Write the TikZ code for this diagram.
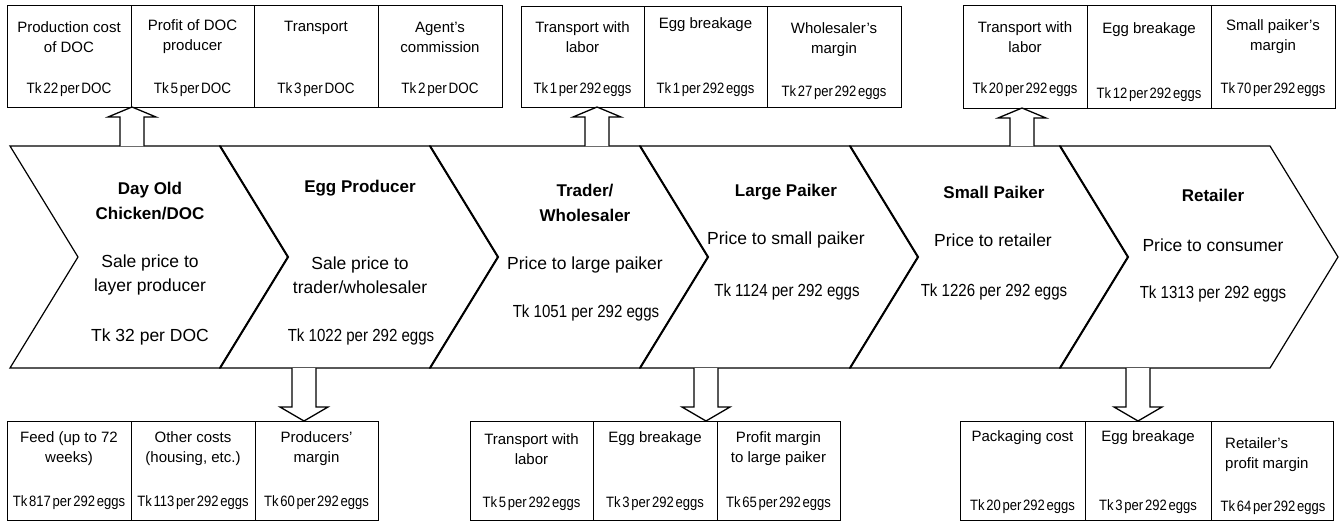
\documentclass[tikz,border=0pt]{standalone}
\usepackage{fontspec}
\setmainfont{Liberation Sans}
\usepackage{graphicx}

% condensed price lines
\newcommand{\tkdoc}[1]{\scalebox{0.9}[1]{\spaceskip=2pt\relax #1}}
\newcommand{\tkegg}[1]{\scalebox{0.87}[1]{\spaceskip=2pt\relax #1}}
\newcommand{\tkbig}[1]{\scalebox{0.86}[1]{#1}}

% cell of a cost table: name, x left, x right, y top, y bottom
\newcommand{\cellbox}[5]{%
  \node[cell, anchor=north west, minimum width={(#3-#2)*1pt},
        minimum height={(#5-#4)*1pt}] (#1) at (#2,#4) {};}

% hollow block arrows: x centre, y of stem end, y of tip
\newcommand{\blkup}[3]{%
  \draw[blk] (#1-12,#2) -- (#1-12,#3+10) -- (#1-24,#3+10) -- (#1,#3)
             -- (#1+24,#3+10) -- (#1+12,#3+10) -- (#1+12,#2);}
\newcommand{\blkdown}[3]{%
  \draw[blk] (#1-12,#2) -- (#1-12,#3-14) -- (#1-24,#3-14) -- (#1,#3)
             -- (#1+24,#3-14) -- (#1+12,#3-14) -- (#1+12,#2);}

\tikzset{
  chev/.style={draw=black, line width=1.2pt, fill=white, line join=miter},
  sepline/.style={draw=black, line width=2pt},
  cell/.style={draw=black, line width=1.4pt, inner sep=0pt},
  blk/.style={draw=black, line width=1.3pt, fill=white},
  boxtxt/.style={align=center, inner sep=0pt, font=\fontsize{15}{20}\selectfont},
  chtitle/.style={align=center, inner sep=0pt, font=\fontsize{17}{25}\selectfont\bfseries},
  chtxt/.style={align=center, inner sep=0pt, font=\fontsize{17.5}{24}\selectfont},
}

\begin{document}
\begin{tikzpicture}[x=1pt, y=-1pt]
\useasboundingbox (0,0) rectangle (1344,522);

% value-chain chevrons
\foreach \i in {0,...,5} {
  \pgfmathsetmacro\xa{10+210*\i}
  \draw[chev] (\xa,146) -- (\xa+210,146) -- (\xa+278,257) -- (\xa+210,368)
              -- (\xa,368) -- (\xa+68,257) -- cycle;
}
\foreach \i in {1,...,5} {
  \pgfmathsetmacro\xa{10+210*\i}
  \draw[sepline] (\xa,146) -- (\xa+68,257) -- (\xa,368);
}

% chevron texts
\node[chtitle] (c1t) at (150,201) {Day Old\\Chicken/DOC};
\node[chtxt]   (c1d) at (150,275) {Sale price to\\layer producer};
\node[chtxt]   (c1p) at (150,337) {Tk 32 per DOC};

\node[chtitle] (c2t) at (360,188) {Egg Producer};
\node[chtxt]   (c2d) at (360,275) {Sale price to\\trader/wholesaler};
\node[chtxt]   (c2p) at (361,337) {\tkbig{Tk 1022 per 292 eggs}};

\node[chtitle] (c3t) at (585,203) {Trader/\\Wholesaler};
\node[chtxt]   (c3d) at (585,265) {Price to large paiker};
\node[chtxt]   (c3p) at (586,313) {\tkbig{Tk 1051 per 292 eggs}};

\node[chtitle] (c4t) at (786,192) {Large Paiker};
\node[chtxt]   (c4d) at (786,240) {Price to small paiker};
\node[chtxt]   (c4p) at (787,292) {\tkbig{Tk 1124 per 292 eggs}};

\node[chtitle] (c5t) at (994,192) {Small Paiker};
\node[chtxt]   (c5d) at (993,240) {Price to retailer};
\node[chtxt]   (c5p) at (994,292) {\tkbig{Tk 1226 per 292 eggs}};

\node[chtitle] (c6t) at (1213,195) {Retailer};
\node[chtxt]   (c6d) at (1213,245) {Price to consumer};
\node[chtxt]   (c6p) at (1213,294) {\tkbig{Tk 1313 per 292 eggs}};

% block arrows to the cost tables
\blkup{132}{146}{107}
\blkup{597}{146}{107}
\blkup{1022}{146}{108}
\blkdown{304}{368}{421}
\blkdown{706}{368}{421}
\blkdown{1138}{368}{421}

% upper cost tables
\cellbox{t1}{7}{131}{5}{107}
\cellbox{t2}{131}{254}{5}{107}
\cellbox{t3}{254}{378}{5}{107}
\cellbox{t4}{378}{502}{5}{107}
\cellbox{t5}{521}{644}{6}{107}
\cellbox{t6}{644}{767}{6}{107}
\cellbox{t7}{767}{901}{6}{107}
\cellbox{t8}{963}{1087}{5}{108}
\cellbox{t9}{1087}{1211}{5}{108}
\cellbox{t10}{1211}{1335}{5}{108}

\node[boxtxt] (t1a) at (69,37) {Production cost\\of DOC};
\node[boxtxt] (t1b) at (69,90) {\tkdoc{Tk 22 per DOC}};
\node[boxtxt] (t2a) at (192.5,37) {Profit of DOC\\producer};
\node[boxtxt] (t2b) at (192.5,90) {\tkdoc{Tk 5 per DOC}};
\node[boxtxt] (t3a) at (316,28) {Transport};
\node[boxtxt] (t3b) at (316,90) {\tkdoc{Tk 3 per DOC}};
\node[boxtxt] (t4a) at (440,37) {Agent’s\\commission};
\node[boxtxt] (t4b) at (440,90) {\tkdoc{Tk 2 per DOC}};

\node[boxtxt] (t5a) at (582.5,37) {Transport with\\labor};
\node[boxtxt] (t5b) at (582.5,90) {\tkegg{Tk 1 per 292 eggs}};
\node[boxtxt] (t6a) at (705.5,25) {Egg breakage};
\node[boxtxt] (t6b) at (705.5,90) {\tkegg{Tk 1 per 292 eggs}};
\node[boxtxt] (t7a) at (834,40) {Wholesaler’s\\margin};
\node[boxtxt] (t7b) at (834,93) {\tkegg{Tk 27 per 292 eggs}};

\node[boxtxt] (t8a) at (1025,37) {Transport with\\labor};
\node[boxtxt] (t8b) at (1025,90) {\tkegg{Tk 20 per 292 eggs}};
\node[boxtxt] (t9a) at (1149,30) {Egg breakage};
\node[boxtxt] (t9b) at (1149,95) {\tkegg{Tk 12 per 292 eggs}};
\node[boxtxt] (t10a) at (1273,37) {Small paiker’s\\margin};
\node[boxtxt] (t10b) at (1273,90) {\tkegg{Tk 70 per 292 eggs}};

% lower cost tables
\cellbox{b1}{7}{131}{421}{520}
\cellbox{b2}{131}{255}{421}{520}
\cellbox{b3}{255}{378}{421}{520}
\cellbox{b4}{470}{593}{421}{520}
\cellbox{b5}{593}{717}{421}{520}
\cellbox{b6}{717}{840}{421}{520}
\cellbox{b7}{960}{1085}{421}{520}
\cellbox{b8}{1085}{1211}{421}{520}
\cellbox{b9}{1211}{1333}{421}{520}

\node[boxtxt] (b1a) at (69,449) {Feed (up to 72\\weeks)};
\node[boxtxt] (b1b) at (69,503) {\tkegg{Tk 817 per 292 eggs}};
\node[boxtxt] (b2a) at (193,449) {Other costs\\(housing, etc.)};
\node[boxtxt] (b2b) at (193,503) {\tkegg{Tk 113 per 292 eggs}};
\node[boxtxt] (b3a) at (316.5,449) {Producers’\\margin};
\node[boxtxt] (b3b) at (316.5,503) {\tkegg{Tk 60 per 292 eggs}};

\node[boxtxt] (b4a) at (531.5,449) {Transport with\\labor};
\node[boxtxt] (b4b) at (531.5,504) {\tkegg{Tk 5 per 292 eggs}};
\node[boxtxt] (b5a) at (655,439) {Egg breakage};
\node[boxtxt] (b5b) at (655,504) {\tkegg{Tk 3 per 292 eggs}};
\node[boxtxt] (b6a) at (778.5,449) {Profit margin\\to large paiker};
\node[boxtxt] (b6b) at (778.5,504) {\tkegg{Tk 65 per 292 eggs}};

\node[boxtxt] (b7a) at (1022.5,438) {Packaging cost};
\node[boxtxt] (b7b) at (1022.5,507) {\tkegg{Tk 20 per 292 eggs}};
\node[boxtxt] (b8a) at (1148,438) {Egg breakage};
\node[boxtxt] (b8b) at (1148,507) {\tkegg{Tk 3 per 292 eggs}};
\node[boxtxt, align=left, anchor=west] (b9a) at (1225,455) {Retailer’s\\profit margin};
\node[boxtxt] (b9b) at (1273,508) {\tkegg{Tk 64 per 292 eggs}};
\end{tikzpicture}
\end{document}
